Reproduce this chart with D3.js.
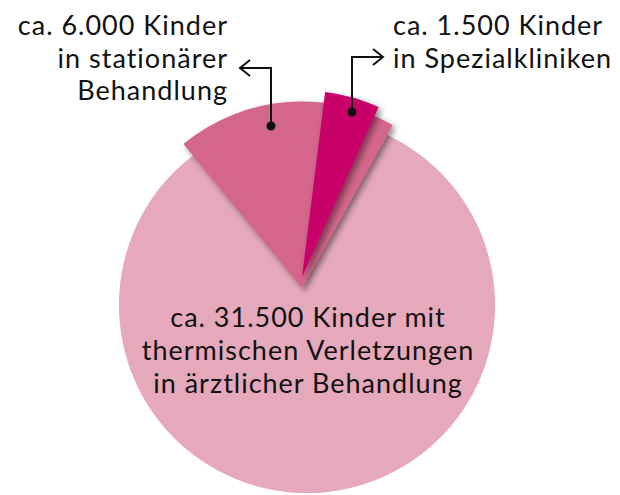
<!DOCTYPE html>
<html>
<head>
<meta charset="utf-8">
<script src="https://cdn.jsdelivr.net/npm/d3@7"></script>
<style>
  body { margin: 0; background: #fff; }
  text { font-family: "Lato", sans-serif; fill: #111; letter-spacing: 1px; }
</style>
</head>
<body>
<div id="pie"></div>
<script>
// Kinder mit thermischen Verletzungen

const categories = ["ärztliche Behandlung", "stationäre Behandlung", "Spezialkliniken"];
const counts = [31500, 6000, 1500];
const labelLines = [
  ["ca. 31.500 Kinder mit", "thermischen Verletzungen", "in ärztlicher Behandlung"],
  ["ca. 6.000 Kinder", "in stationärer", "Behandlung"],
  ["ca. 1.500 Kinder", "in Spezialkliniken"]
];
const colors = ["#e6a9bb", "#d4668c", "#c8006a"];

const width = 620, height = 495;
const cx = 307, cy = 305, r = 188;
const deg = d => d * Math.PI / 180;

const svg = d3.select("#pie")
  .append("svg")
  .attr("width", width)
  .attr("height", height);

const defs = svg.append("defs");
const shadow = defs.append("filter")
  .attr("id", "shadow")
  .attr("x", "-20%").attr("y", "-20%")
  .attr("width", "140%").attr("height", "140%");
shadow.append("feDropShadow")
  .attr("dx", 3).attr("dy", 3)
  .attr("stdDeviation", 3)
  .attr("flood-color", "#000")
  .attr("flood-opacity", 0.45);

const angle = d3.scaleLinear().domain([0, counts[0]]).range([0, 2 * Math.PI]);
const arc = d3.arc().innerRadius(0).outerRadius(r - 1.5);

// full circle
svg.append("path")
  .attr("transform", `translate(${cx},${cy})`)
  .attr("d", d3.arc().innerRadius(0).outerRadius(r)({ startAngle: 0, endAngle: angle(counts[0]) }))
  .attr("fill", colors[0]);

// stationaer wedge
const midStart = deg(-39.5);
const midEnd = midStart + angle(counts[1]);
svg.append("path")
  .attr("transform", `translate(${cx - 5},${cy - 17})`)
  .attr("d", arc({ startAngle: midStart, endAngle: midEnd }))
  .attr("fill", colors[1])
  .attr("filter", "url(#shadow)");

// Spezialkliniken wedge
const topEnd = midEnd - deg(4.8);
const topStart = topEnd - angle(counts[2]);
svg.append("path")
  .attr("transform", `translate(${cx - 5},${cy - 28})`)
  .attr("d", arc({ startAngle: topStart, endAngle: topEnd }))
  .attr("fill", colors[2])
  .attr("filter", "url(#shadow)");

// labels
const fs = 27;
const main = svg.append("text")
  .attr("text-anchor", "middle")
  .attr("font-size", fs);
labelLines[0].forEach((t, i) => {
  main.append("tspan").attr("x", 308).attr("y", 327 + i * 33).text(t);
});

const left = svg.append("text")
  .attr("text-anchor", "end")
  .attr("font-size", fs);
labelLines[1].forEach((t, i) => {
  left.append("tspan").attr("x", 228).attr("y", 35 + i * 32.5).text(t);
});

const right = svg.append("text")
  .attr("text-anchor", "start")
  .attr("font-size", fs);
labelLines[2].forEach((t, i) => {
  right.append("tspan").attr("x", 393).attr("y", 35 + i * 32.5).text(t);
});

// pointers
const line = d3.line();
const pointer = (pts, tip, dir) => {
  svg.append("path")
    .attr("d", line(pts))
    .attr("fill", "none")
    .attr("stroke", "#111")
    .attr("stroke-width", 2);
  svg.append("path")
    .attr("d", line([[tip[0] - dir * 10, tip[1] - 8], tip, [tip[0] - dir * 10, tip[1] + 8]]))
    .attr("fill", "none")
    .attr("stroke", "#111")
    .attr("stroke-width", 2);
  svg.append("circle")
    .attr("cx", pts[0][0]).attr("cy", pts[0][1])
    .attr("r", 4.5)
    .attr("fill", "#111");
};

pointer([[271, 126], [271, 68], [240, 68]], [240, 68], -1);
pointer([[352, 112], [352, 57], [383, 57]], [383, 57], 1);
</script>
</body>
</html>
